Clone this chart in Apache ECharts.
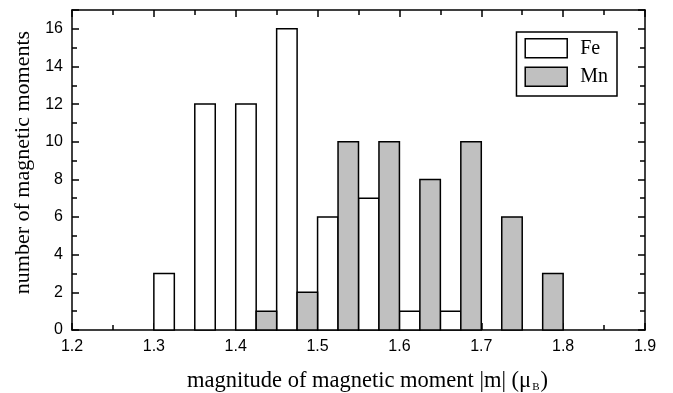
<!DOCTYPE html>
<html><head><meta charset="utf-8">
<script src="https://cdn.jsdelivr.net/npm/echarts@6/dist/echarts.min.js"></script>
<style>html,body{margin:0;padding:0;background:#fff}#c{width:673px;height:393px}</style>
</head><body><div id="c"></div>
<script>
const binStarts = [1.30, 1.35, 1.40, 1.45, 1.50, 1.55, 1.60, 1.65, 1.70, 1.75];
const feCounts  = [3, 12, 12, 16, 6, 7, 1, 1, 0, 0];
const mnCounts  = [0, 0, 1, 2, 10, 10, 8, 10, 6, 3];
const xTicks = [1.2, 1.3, 1.4, 1.5, 1.6, 1.7, 1.8, 1.9];
const yTicks = [0, 2, 4, 6, 8, 10, 12, 14, 16];
const halfBin = 0.025;

const feData = [], mnData = [];
binStarts.forEach((b, i) => {
  if (feCounts[i] > 0) feData.push([b, feCounts[i]]);
  if (mnCounts[i] > 0) mnData.push([b + halfBin, mnCounts[i]]);
});

function render(fill) {
  return function (params, api) {
    const x0 = api.value(0), y = api.value(1);
    const p1 = api.coord([x0, y]);
    const p2 = api.coord([x0 + halfBin, 0]);
    return {
      type: 'rect',
      shape: { x: p1[0], y: p1[1], width: p2[0] - p1[0], height: p2[1] - p1[1] },
      style: { fill: fill, stroke: '#000', lineWidth: 1.5 }
    };
  };
}

const chart = echarts.init(document.getElementById('c'));
const sans = 'Liberation Sans, Arial, sans-serif';
const serif = 'Liberation Serif, Times New Roman, serif';
const axisCommon = {
  axisLine: { show: true, onZero: false, lineStyle: { color: '#000', width: 1.5 } },
  axisTick: { show: true, inside: true, length: 7, lineStyle: { color: '#000', width: 1.5 } },
  minorTick: { show: true, splitNumber: 2, length: 5, lineStyle: { color: '#000', width: 1.5 } },
  splitLine: { show: false }
};
chart.setOption({
  animation: false,
  grid: { left: 72, right: 28, top: 10, bottom: 63, containLabel: false, outerBoundsMode: 'none' },
  legend: {
    orient: 'vertical', right: 56, top: 32,
    itemWidth: 42, itemHeight: 19, itemGap: 8,
    borderColor: '#000', borderWidth: 1.5, padding: [6, 9, 9, 8],
    textStyle: { fontFamily: serif, fontSize: 20, color: '#000', padding: [0, 0, 0, 8] },
    data: [
      { name: 'Fe', icon: 'rect', itemStyle: { color: '#fff', borderColor: '#000', borderWidth: 1.5 } },
      { name: 'Mn', icon: 'rect', itemStyle: { color: '#c0c0c0', borderColor: '#000', borderWidth: 1.5 } }
    ]
  },
  xAxis: [
    Object.assign({}, axisCommon, {
      type: 'value', min: xTicks[0], max: xTicks[xTicks.length - 1], interval: 0.1,
      name: 'magnitude of magnetic moment |m| (μ{sub|B})', nameLocation: 'middle', nameGap: 40,
      nameTextStyle: { fontFamily: serif, fontSize: 22.5, color: '#000', padding: [0, 0, 0, 18],
        rich: { sub: { fontFamily: serif, fontSize: 11, color: '#000', verticalAlign: 'bottom', padding: [12, 1, 0, 1] } } },
      axisLabel: { fontFamily: sans, fontSize: 16, color: '#000', margin: 9,
        formatter: v => v.toFixed(1) }
    }),
    Object.assign({}, axisCommon, {
      type: 'value', position: 'top', min: xTicks[0], max: xTicks[xTicks.length - 1], interval: 0.1,
      axisLabel: { show: false }
    })
  ],
  yAxis: [
    Object.assign({}, axisCommon, {
      type: 'value', min: 0, max: 17, interval: 2,
      name: 'number of magnetic moments', nameLocation: 'middle', nameGap: 37,
      nameTextStyle: { fontFamily: serif, fontSize: 22, color: '#000', padding: [0, 0, 0, 15] },
      axisLabel: { fontFamily: sans, fontSize: 16, color: '#000', margin: 9, showMaxLabel: false,
        formatter: v => (yTicks.indexOf(v) >= 0 ? String(v) : '') }
    }),
    Object.assign({}, axisCommon, {
      type: 'value', position: 'right', min: 0, max: 17, interval: 2,
      axisLabel: { show: false }
    })
  ],
  series: [
    { name: 'Fe', type: 'custom', xAxisIndex: 0, yAxisIndex: 0, data: feData,
      itemStyle: { color: '#fff', borderColor: '#000' }, renderItem: render('#fff') },
    { name: 'Mn', type: 'custom', xAxisIndex: 0, yAxisIndex: 0, data: mnData,
      itemStyle: { color: '#c0c0c0', borderColor: '#000' }, renderItem: render('#c0c0c0') }
  ]
});
</script></body></html>
